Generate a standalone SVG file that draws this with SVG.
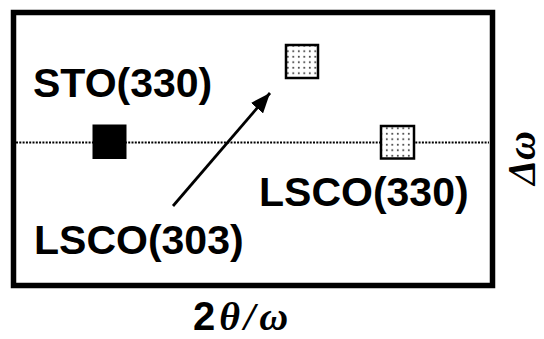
<svg xmlns="http://www.w3.org/2000/svg" width="544" height="339" viewBox="0 0 544 339">
<defs>
<pattern id="dots" width="5.5" height="5.5" patternUnits="userSpaceOnUse">
<rect width="5.5" height="5.5" fill="#fff"/>
<circle cx="1.8" cy="1.8" r="1" fill="#444"/>
</pattern>
<marker id="ah" viewBox="0 0 20 16" refX="20" refY="8" markerWidth="20" markerHeight="16" markerUnits="userSpaceOnUse" orient="auto">
<path d="M0,0 L20,8 L0,16 Z" fill="#000"/>
</marker>
</defs>
<style>
.lbl{font-family:"Liberation Sans",Arial,sans-serif;font-weight:bold;font-size:41px;fill:#000}
.ax{font-family:"Liberation Serif","Times New Roman",serif;font-weight:bold;font-style:italic;fill:#000}
.gray{fill:url(#dots);stroke:#000;stroke-width:2.5}
</style>
<rect x="0" y="0" width="544" height="339" fill="#fff"/>
<g id="frame">
<rect x="13.5" y="12.5" width="479" height="273" fill="none" stroke="#000" stroke-width="5.5"/>
</g>
<g id="connectors">
<line x1="16" y1="142.5" x2="489" y2="142.5" stroke="#000" stroke-width="1.8" stroke-dasharray="2 1.3"/>
<line x1="173" y1="206" x2="270" y2="93" stroke="#000" stroke-width="2.8" marker-end="url(#ah)"/>
</g>
<g id="sto-point"><rect x="92.5" y="124.5" width="34" height="34.5" fill="#000"/></g>
<g id="lsco303-point"><rect x="286" y="45" width="32" height="33" class="gray"/></g>
<g id="lsco330-point"><rect x="381" y="126" width="33" height="32.5" class="gray"/></g>
<g id="labels">
<text class="lbl" x="33" y="97">STO(330)</text>
<text class="lbl" x="34" y="254">LSCO(303)</text>
<text class="lbl" x="259" y="206">LSCO(330)</text>
<text class="ax" font-size="40" transform="translate(535,185) rotate(-90)">Δω</text>
<text x="193" y="330" font-size="40" letter-spacing="4"><tspan font-family="Liberation Sans,Arial,sans-serif" font-weight="bold">2</tspan><tspan class="ax">θ</tspan><tspan class="ax">/</tspan><tspan class="ax">ω</tspan></text>
</g>
</svg>
